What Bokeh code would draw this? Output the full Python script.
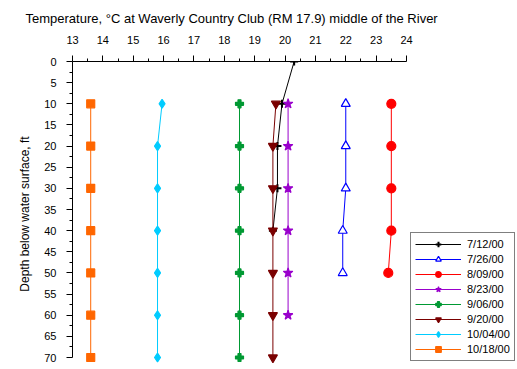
from bokeh.plotting import figure
from bokeh.models import Range1d, FixedTicker, Legend, LegendItem, Title
from bokeh.embed import file_html
from bokeh.resources import INLINE

# ---- data ----
x_ticks = [13, 14, 15, 16, 17, 18, 19, 20, 21, 22, 23, 24]
y_ticks = [0, 5, 10, 15, 20, 25, 30, 35, 40, 45, 50, 55, 60, 65, 70]

d_0712 = [0, 10, 20, 30, 40]
t_0712 = [20.3, 19.9, 19.75, 19.75, 19.6]
d_0726 = [10, 20, 30, 40, 50]
t_0726 = [22.0, 22.0, 22.0, 21.9, 21.9]
d_0809 = [10, 20, 30, 40, 50]
t_0809 = [23.5, 23.5, 23.5, 23.5, 23.4]
d_0823 = [10, 20, 30, 40, 50, 60]
t_0823 = [20.1, 20.1, 20.1, 20.1, 20.1, 20.1]
d_0906 = [10, 20, 30, 40, 50, 60, 70]
t_0906 = [18.5, 18.5, 18.5, 18.5, 18.5, 18.5, 18.5]
d_0920 = [10, 20, 30, 40, 50, 60, 70]
t_0920 = [19.7, 19.6, 19.6, 19.6, 19.6, 19.6, 19.6]
d_1004 = [10, 20, 30, 40, 50, 60, 70]
t_1004 = [15.95, 15.8, 15.8, 15.8, 15.8, 15.8, 15.8]
d_1018 = [10, 20, 30, 40, 50, 60, 70]
t_1018 = [13.6, 13.6, 13.6, 13.6, 13.6, 13.6, 13.6]

series = [
    ("7/12/00", t_0712, d_0712, "#000000", "cross", 8, "#000000"),
    ("7/26/00", t_0726, d_0726, "#0000FF", "triangle", 9, "#FFFFFF"),
    ("8/09/00", t_0809, d_0809, "#FF0000", "circle", 9, "#FF0000"),
    ("8/23/00", t_0823, d_0823, "#9900CC", "star", 10, "#9900CC"),
    ("9/06/00", t_0906, d_0906, "#009933", "plus", 8, "#009933"),
    ("9/20/00", t_0920, d_0920, "#7A0000", "inverted_triangle", 9, "#7A0000"),
    ("10/04/00", t_1004, d_1004, "#00CCFF", "diamond", 9, "#00CCFF"),
    ("10/18/00", t_1018, d_1018, "#FF6600", "square", 8, "#FF6600"),
]

FONT = "Liberation Sans"

# frame: x=72..515 px, y=61..366 px; the axes cover 13..24 (334 px) and 0..70 (296 px)
X_MIN, X_MAX = 13, 24
Y_MIN, Y_MAX = 0, 70
px_x = 334 / (X_MAX - X_MIN)
px_y = 296 / (Y_MAX - Y_MIN)
x_end = X_MIN + 443 / px_x
y_end = Y_MIN + 305 / px_y

p = figure(width=517, height=368, output_backend="svg", toolbar_location=None,
           x_range=Range1d(X_MIN, x_end), y_range=Range1d(y_end, Y_MIN),
           x_axis_location="above",
           min_border_left=72, min_border_right=2, min_border_top=61, min_border_bottom=2)
p.outline_line_color = None
p.xgrid.visible = False
p.ygrid.visible = False
p.background_fill_color = "white"
p.border_fill_color = "white"
p.xaxis.bounds = (X_MIN, X_MAX)
p.yaxis.bounds = (Y_MIN, Y_MAX)

p.xaxis.ticker = FixedTicker(ticks=x_ticks, minor_ticks=[v + 0.5 for v in x_ticks[:-1]])
p.yaxis.ticker = FixedTicker(ticks=y_ticks, minor_ticks=[v + 2.5 for v in y_ticks[:-1]])
for ax in (p.xaxis[0], p.yaxis[0]):
    ax.major_tick_out = 6
    ax.major_tick_in = 0
    ax.minor_tick_out = 3
    ax.minor_tick_in = 0
    ax.axis_line_color = "black"
    ax.major_tick_line_color = "black"
    ax.minor_tick_line_color = "black"
    ax.major_label_text_font = FONT
    ax.major_label_text_font_size = "11px"
    ax.major_label_text_color = "black"
    ax.major_label_standoff = 10
p.xaxis.major_label_standoff = 12

p.yaxis.axis_label = "Depth below water surface, ft"
p.yaxis.axis_label_text_font = FONT
p.yaxis.axis_label_text_font_size = "12px"
p.yaxis.axis_label_text_font_style = "normal"
p.yaxis.axis_label_text_color = "black"
p.yaxis.axis_label_standoff = 9

p.title = Title(text="Temperature, \u00b0C at Waverly Country Club (RM 17.9) middle of the River",
                align="left", offset=-47, standoff=14, text_font=FONT, text_font_size="13px",
                text_font_style="normal", text_color="black")

items = []
for name, t, d, color, marker, size, fill in series:
    r1 = p.line(t, d, line_color=color, line_width=1)
    lw = 2 if marker == "cross" else 1.2
    r2 = p.scatter(t, d, marker=marker, size=size, line_color=color, fill_color=fill, line_width=lw)
    items.append(LegendItem(label=name, renderers=[r1, r2]))

legend = Legend(items=items, location=(338, 5), orientation="vertical",
                label_text_font=FONT, label_text_font_size="11px", label_text_color="black",
                glyph_width=46, glyph_height=14, label_height=14, spacing=1, padding=4,
                margin=0, border_line_color="black", border_line_width=1,
                background_fill_color="white", background_fill_alpha=1.0,
                label_standoff=6)
p.add_layout(legend, "center")

open("out.html", "w").write(file_html(p, INLINE))
